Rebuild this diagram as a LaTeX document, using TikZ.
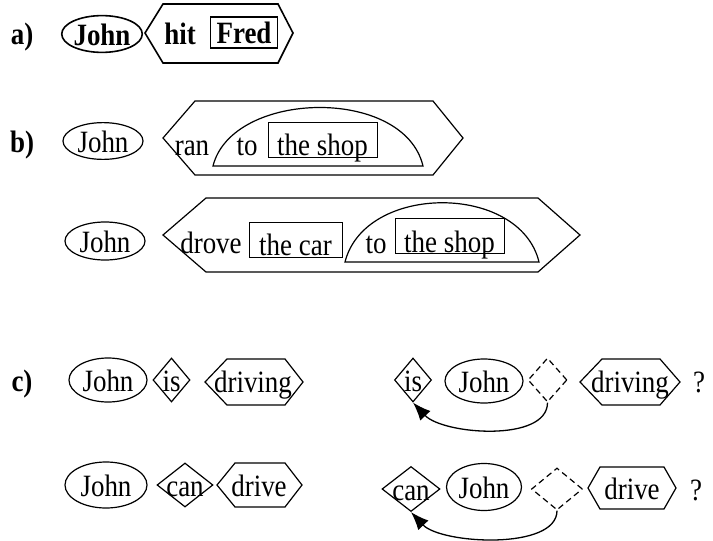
\documentclass[tikz,border=0pt]{standalone}
\usepackage{fontspec}
\setmainfont{Liberation Serif}[FakeStretch=0.87]
\usepackage{tikz}
\usetikzlibrary{positioning}
\usetikzlibrary{shapes.geometric}
\usetikzlibrary{arrows.meta}
\tikzset{word/.style={font={\fontsize{31}{34}\selectfont}, inner sep=0pt, text height=24pt, text depth=2pt}}
\tikzset{bold/.style={font={\fontsize{31}{34}\selectfont\bfseries}, line width=1.6pt}}
\tikzset{blob/.style={word, draw, ellipse, line width=1.2pt}}
\tikzset{frame/.style={word, draw, rectangle, line width=0.8pt}}
\tikzset{gem/.style={word, draw, diamond, line width=1.2pt}}
\tikzset{hole/.style={gem, dash pattern=on 6pt off 4pt}}
\tikzset{hex/.style={line width=1.2pt, line join=miter}}
\tikzset{move/.style={line width=1.3pt, -{Latex[length=18pt,width=14pt]}}}

\begin{document}
\begin{tikzpicture}[x=1pt,y=-1pt]
\useasboundingbox (0,0) rectangle (713,541);
\node[word, bold] (tagA) at (22,33) {a)};
\node[blob, bold, minimum width=76pt, minimum height=34pt] (johnA) at (102,34) {John};
\draw[hex, line width=1.6pt] (145,33) -- (163,4) -- (278,4) -- (293,33) -- (278,63) -- (163,63) -- cycle;
\node[word, bold] (hit) at (180,33) {hit};
\node[frame, bold, text height=26pt, text depth=5pt, minimum width=67pt] (fred) at (244,32.5) {Fred};

\node[word, bold] (tagB) at (22,141) {b)};
\node[blob, minimum width=80pt, minimum height=34pt] (johnB) at (103,141) {John};
\draw[hex] (163,138) -- (195,101) -- (433,101) -- (463,138) -- (433,175) -- (195,175) -- cycle;
\node[word] (ran) at (192,144) {ran};
\draw[hex] (213,166) .. controls (232,90) and (404,86) .. (423,166) -- cycle;
\node[word] (toB) at (247,144) {to};
\node[frame, text height=33pt, text depth=2pt, minimum width=109pt] (shopB) at (322.5,139.5) {the shop};

\node[blob, minimum width=80pt, minimum height=38pt] (johnBB) at (105,241) {John};
\draw[hex] (163,235) -- (206,198) -- (538,198) -- (580,235) -- (538,272) -- (206,272) -- cycle;
\node[word] (drove) at (211,242) {drove};
\node[frame, text height=33pt, text depth=2pt, minimum width=93pt] (car) at (295.5,239.5) {the car};
\draw[hex] (345,262) .. controls (365,183) and (520,183) .. (539,262) -- cycle;
\node[word] (toBB) at (376,242) {to};
\node[frame, text height=34pt, text depth=1pt, minimum width=109pt] (shopBB) at (449.5,235.5) {the shop};

\node[word, bold] (tagC) at (22,380) {c)};
\node[blob, minimum width=78pt, minimum height=44pt] (johnC) at (108,380) {John};
\node[gem, minimum width=37pt, minimum height=44pt] (isC) at (171.5,380) {\makebox[0pt]{is}};
\draw[hex] (205,382) -- (227,359) -- (285,359) -- (303,382) -- (285,405) -- (227,405) -- cycle;
\node[word] (drivingC) at (253,381) {driving};
\node[gem, minimum width=37pt, minimum height=44pt] (isCq) at (413,380) {\makebox[0pt]{is}};
\node[blob, minimum width=78pt, minimum height=44pt] (johnCq) at (484,381) {John};
\node[hole, minimum width=39pt, minimum height=44pt] (gapC) at (547.5,380) {};
\draw[hex] (580,382) -- (602,359) -- (660,359) -- (680,382) -- (660,405) -- (602,405) -- cycle;
\node[word] (drivingCq) at (630,381) {driving};
\node[word] (askC) at (699,381) {?};
\draw[move] (gapC.south) .. controls +(0,40) and +(30,32) .. (isCq.south);

\node[blob, minimum width=82pt, minimum height=46pt] (johnD) at (106,485) {John};
\node[gem, minimum width=56pt, minimum height=44pt] (canD) at (185,485) {\makebox[0pt]{can}};
\draw[hex] (217,485) -- (235,463) -- (285,463) -- (302,485) -- (285,507) -- (235,507) -- cycle;
\node[word] (driveD) at (259,485) {drive};
\node[gem, minimum width=58pt, minimum height=45pt] (canDq) at (411,489) {\makebox[0pt]{can}};
\node[blob, minimum width=75pt, minimum height=47pt] (johnDq) at (484,487) {John};
\node[hole, minimum width=51pt, minimum height=42pt] (gapD) at (557,489) {};
\draw[hex] (588,488) -- (600,467) -- (664,467) -- (676,488) -- (664,509) -- (600,509) -- cycle;
\node[word] (driveDq) at (632,488) {drive};
\node[word] (askD) at (696,489) {?};
\draw[move] (gapD.south) .. controls +(0,40) and +(30,32) .. (canDq.south);
\end{tikzpicture}
\end{document}
